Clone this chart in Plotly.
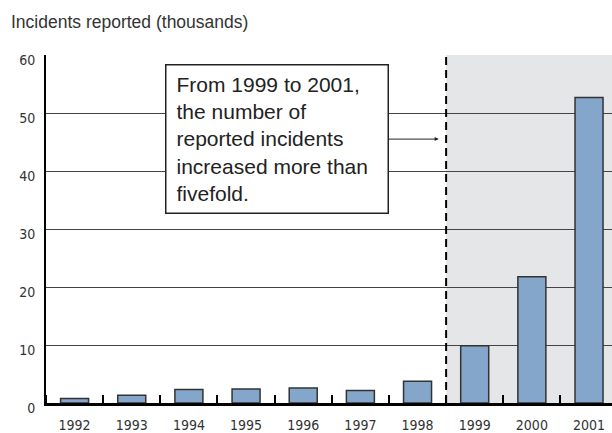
import plotly.graph_objects as go

# Incidents reported per year, in thousands
years = [1992, 1993, 1994, 1995, 1996, 1997, 1998, 1999, 2000, 2001]
incidents = [0.773, 1.334, 2.340, 2.412, 2.573, 2.134, 3.734, 9.859, 21.756, 52.658]

y_ticks = [0, 10, 20, 30, 40, 50, 60]
title_text = "Incidents reported (thousands)"
note_text = ("From 1999 to 2001,<br>the number of<br>reported incidents"
             "<br>increased more than<br>fivefold.")

narrow = "DejaVu Sans Condensed, Liberation Sans Narrow, Liberation Sans, sans-serif"
regular = "Liberation Sans, Arial, sans-serif"

fig = go.Figure()

fig.add_trace(go.Bar(
    x=years,
    y=incidents,
    width=0.49,
    marker=dict(color="#84a6cb", line=dict(color="#333333", width=1.5)),
    hoverinfo="skip",
))

# Shaded period from 1999 onward and the dashed divider before it
fig.add_shape(type="rect", xref="x", yref="y", x0=1998.5, x1=2001.6, y0=0, y1=60,
              fillcolor="#e5e6e8", line=dict(width=0), layer="below")
fig.add_shape(type="line", xref="x", yref="y", x0=1998.5, x1=1998.5, y0=0, y1=60,
              line=dict(color="black", width=2, dash="8px,5px"), layer="between")

fig.add_annotation(
    x=1998.37, y=45.5, xref="x", yref="y",
    ax=1995.54, ay=45.5, axref="x", ayref="y",
    text=note_text, align="left", valign="middle",
    font=dict(family=regular, size=21, color="#222222"),
    bgcolor="white", bordercolor="#222222", borderwidth=1.5, borderpad=10,
    width=201, height=127,
    showarrow=True, arrowhead=2, arrowsize=0.8, arrowwidth=1, arrowcolor="#222222",
    standoff=0,
)

fig.update_layout(
    width=612, height=433,
    margin=dict(l=46, r=0, t=55, b=30, autoexpand=False),
    paper_bgcolor="white", plot_bgcolor="white",
    showlegend=False,
    title=dict(text=title_text, x=11 / 612, xref="container", xanchor="left",
               y=1 - 22 / 433, yref="container", yanchor="middle",
               font=dict(family=regular, size=17.5, color="#333333"),
               automargin=False),
    xaxis=dict(
        range=[1991.5, 2001.402],
        tickmode="array", tickvals=years, ticktext=[str(y) for y in years],
        ticks="", showgrid=False, zeroline=False, automargin=False,
        showline=True, linecolor="black", linewidth=2.5,
        tickfont=dict(family=narrow, size=14, color="#333333"),
        ticklabelstandoff=7,
        minor=dict(tickmode="linear", tick0=1991.5, dtick=1, ticks="inside",
                   ticklen=8, tickwidth=2, tickcolor="black", showgrid=False),
    ),
    yaxis=dict(
        range=[0, 60], tickmode="array", tickvals=y_ticks,
        ticks="", showgrid=True, gridcolor="#444444", gridwidth=1.2,
        zeroline=False, showline=True, linecolor="black", linewidth=2,
        automargin=False,
        tickfont=dict(family=narrow, size=14, color="#333333"),
        ticklabelstandoff=6, ticklabelshift=5,
    ),
)

fig.write_html("out.html")
